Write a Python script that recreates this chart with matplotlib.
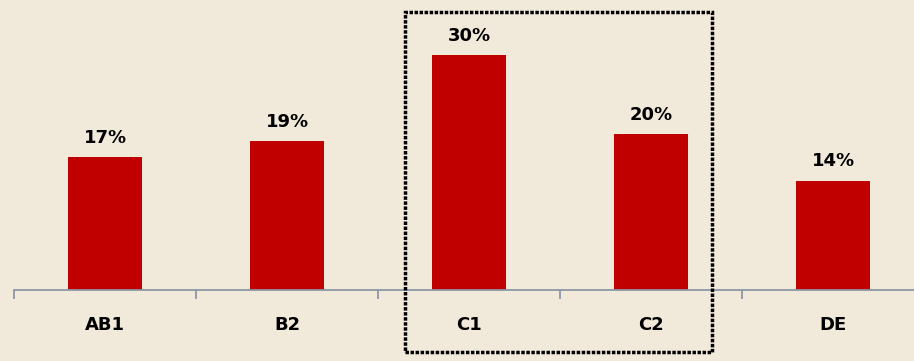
import matplotlib.pyplot as plt
from matplotlib.patches import Rectangle

# shares per level
categories = ["AB1", "B2", "C1", "C2", "DE"]
shares = [17, 19, 30, 20, 14]
labels = ["17%", "19%", "30%", "20%", "14%"]

bg = "#F1E9DA"
bar_color = "#C00000"
axis_color = "#8C96A4"

fig = plt.figure(figsize=(9.14, 3.61), dpi=100)
fig.patch.set_facecolor(bg)
ax = fig.add_axes([0, 0, 1, 1])
ax.set_facecolor(bg)

x = range(len(categories))
bars = ax.bar(x, shares, width=0.41, color=bar_color, zorder=2)

# value labels above bars
for b, lab in zip(bars, labels):
    ax.annotate(lab, (b.get_x() + b.get_width() / 2, b.get_height()),
                xytext=(0, 10), textcoords="offset pixels",
                ha="center", va="bottom", fontsize=13, fontweight="bold")

# category names under the axis
for i, name in enumerate(categories):
    ax.annotate(name, (i, 0), xytext=(0, -35), textcoords="offset pixels",
                ha="center", va="center", fontsize=13, fontweight="bold")

ax.set_xlim(-0.577, 4.445)
ax.set_ylim(-9.1, 37.1)

for side in ["top", "right", "left"]:
    ax.spines[side].set_visible(False)
ax.spines["bottom"].set_position(("data", 0))
ax.spines["bottom"].set_color(axis_color)
ax.spines["bottom"].set_linewidth(1.3)
ax.spines["bottom"].set_bounds(-0.5, 4.445)
ax.set_yticks([])
ax.set_xticks([-0.5, 0.5, 1.5, 2.5, 3.5])
ax.set_xticklabels([])
ax.tick_params(axis="x", direction="out", length=6.5, width=1.3, color=axis_color)

# dotted box around C1 / C2
box = Rectangle((405 / 914, 1 - 352 / 361), 307 / 914, 340 / 361,
                transform=fig.transFigure, fill=False, edgecolor="black",
                linewidth=2.5, linestyle=(0, (1.0, 0.45)), zorder=5)
fig.patches.append(box)

fig.savefig("out.png", dpi=100, facecolor=bg)
